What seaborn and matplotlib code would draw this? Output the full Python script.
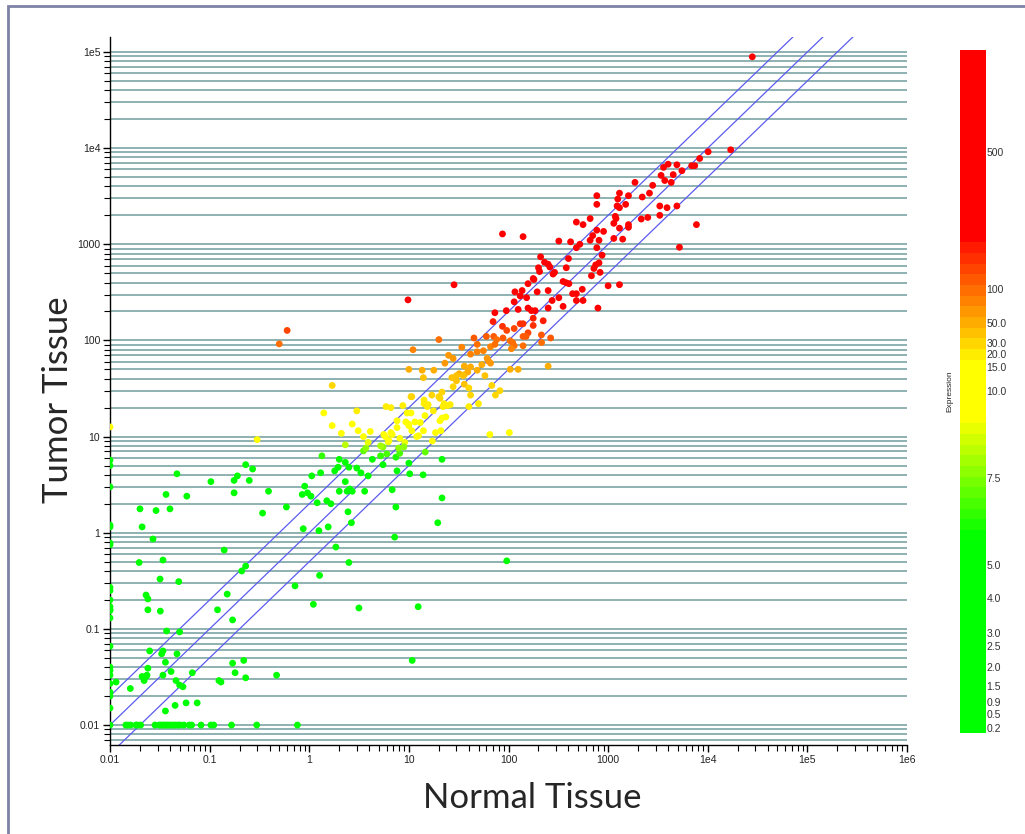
import numpy as np
import pandas as pd
import matplotlib
matplotlib.use("Agg")
import matplotlib.pyplot as plt
import seaborn as sns
from matplotlib.colors import LinearSegmentedColormap, FuncNorm
from matplotlib.ticker import FixedLocator, FixedFormatter, LogLocator, NullFormatter
from matplotlib.patches import Rectangle

# ---------------- data (normal tissue, tumor tissue) ----------------
normal_col = [0.01] * 24 + [0.0115]
tumor_col = [12.6, 5.7, 5.0, 3.0, 1.2, 1.15, 0.78, 0.75, 0.27, 0.25, 0.2, 0.17, 0.16, 0.155,
             0.13, 0.066, 0.04, 0.037, 0.033, 0.027, 0.022, 0.02, 0.015, 0.01, 0.028]

normal_floor = [0.0144, 0.0151, 0.0161, 0.0182, 0.0188, 0.0203, 0.0283, 0.0312, 0.0325, 0.0343,
                0.0356, 0.0373, 0.039, 0.0412, 0.0436, 0.0457, 0.0485, 0.0505, 0.0552, 0.0625,
                0.066, 0.082, 0.103, 0.11, 0.166, 0.297, 0.76]
tumor_floor = [0.01] * len(normal_floor)

normal_low = [0.047, 0.0365, 0.059, 0.02, 0.029, 0.04, 0.021, 0.027, 0.0196, 0.034, 0.103, 0.176,
              0.19, 0.23, 0.27, 0.25, 0.176, 0.39, 0.34, 0.59, 0.14, 0.23, 0.0318, 0.049, 0.023,
              0.024, 0.024, 0.032, 0.037, 0.05, 0.025, 0.034, 0.033, 0.047, 0.036, 0.024, 0.021,
              0.023, 0.0235, 0.022, 0.034, 0.041, 0.046, 0.05, 0.054, 0.067, 0.016, 0.045, 0.036,
              0.058, 0.075, 0.12, 0.17, 0.15, 0.21, 0.17, 0.22, 0.18, 0.124, 0.13, 0.23, 0.47,
              0.72, 1.1, 1.27, 3.15, 12.4, 10.8, 96]
tumor_low = [4.1, 2.5, 2.4, 1.77, 1.7, 1.77, 1.15, 0.86, 0.49, 0.52, 3.4, 3.5, 3.9, 5.1, 4.6, 3.5,
             2.6, 2.7, 1.6, 1.85, 0.66, 0.45, 0.33, 0.31, 0.225, 0.205, 0.158, 0.153, 0.095, 0.093,
             0.059, 0.059, 0.055, 0.055, 0.045, 0.039, 0.032, 0.032, 0.033, 0.029, 0.033, 0.036,
             0.029, 0.026, 0.025, 0.035, 0.024, 0.016, 0.014, 0.017, 0.017, 0.158, 0.124, 0.23,
             0.4, 0.044, 0.047, 0.035, 0.029, 0.028, 0.031, 0.033, 0.28, 0.18, 0.36, 0.165, 0.17,
             0.047, 0.51]

normal_mid = [0.3, 0.85, 0.9, 0.96, 1.04, 1.2, 1.06, 1.3, 1.34, 1.5, 1.65, 0.87, 1.25, 1.55, 1.85,
              2.5, 1.8, 1.95, 2.0, 2.3, 2.5, 3.0, 2.3, 2.0, 2.4, 2.7, 2.55, 2.45, 2.65, 3.3, 3.9,
              3.6, 4.3, 3.5, 3.7, 3.9, 2.3, 5.2, 5.5, 6.0, 5.5, 7.4, 8.1, 7.6, 10.2, 10, 6.8, 7.4,
              7.2, 13.9, 21.5, 14.6, 21.5, 19.5, 5.2, 6.2]
tumor_mid = [9.3, 2.5, 3.05, 2.6, 2.4, 2.05, 3.9, 4.2, 6.3, 2.15, 2.0, 1.1, 1.05, 1.15, 0.71, 0.49,
             4.4, 4.8, 5.8, 5.4, 4.8, 4.7, 3.4, 2.7, 2.7, 2.7, 2.85, 1.65, 1.27, 4.2, 3.9, 2.7, 5.8,
             7.1, 7.6, 8.7, 8.2, 6.3, 5.1, 6.6, 7.8, 6.1, 6.7, 4.4, 4.1, 5.3, 2.8, 1.85, 0.9, 4.0,
             5.8, 6.9, 2.3, 1.27, 8.0, 8.8]

normal_yellow = [1.7, 1.4, 1.7, 2.1, 2.7, 3.0, 3.1, 4.1, 3.5, 5.9, 6.6, 8.7, 10.7, 9.6, 10.5, 7.6,
                 9.3, 9.9, 11.5, 6.6, 6.8, 5.8, 6.3, 8.1, 9.1, 8.9, 7.9, 12, 10, 13, 20.5, 7.6,
                 10.7, 14, 18.5, 21, 12.5, 65, 102, 5.6, 17.2, 14.5, 17.6, 21.5, 23.5, 10.5, 14.2,
                 14.2, 15.6, 15.3, 22.6, 24.5, 22, 26, 40, 50, 27.8, 36, 40, 68, 82, 74, 41.6,
                 21.5, 17, 20, 20.5]
tumor_yellow = [34, 17.6, 13, 10.8, 13.5, 18.5, 11.5, 11.3, 10, 20.5, 20, 21, 26, 17.6, 17.6, 14.6,
                14.2, 13.5, 14.2, 11, 10.5, 10, 9.1, 9.6, 8.7, 7.8, 7.6, 10, 13, 14, 14.6, 12.4,
                11.5, 11.5, 11, 11.5, 10.2, 10.5, 11, 10.5, 9, 16.5, 18.5, 15.6, 16, 26, 24, 22,
                21.5, 20.5, 22, 21, 20.5, 21.5, 20.5, 22, 33, 35, 32, 34, 30, 27, 27, 29, 27, 26,
                25]

normal_orange = [0.6, 0.5, 10, 45, 60, 71, 76, 88, 104, 110, 114, 107, 140, 66, 73, 48.5, 34, 20,
                 11, 48.5, 56, 41.6, 25, 27.8, 61, 63, 66, 54, 48.5, 23, 36, 41.6, 32, 36, 39, 35,
                 27, 30, 13.6, 17.8, 14, 30, 58, 104, 125, 250]
tumor_orange = [127, 92, 50, 106, 110, 110, 102, 106, 99, 95, 88, 82, 88, 86, 91, 91, 85, 102, 80,
                76, 78, 72, 70, 65, 65, 61, 58, 56, 49, 58, 54, 53, 45, 44, 47, 43, 41, 38, 49, 49,
                41, 43, 43, 50, 50, 54]

normal_red = [28.4, 9.8, 157, 180, 353, 378, 404, 116, 137, 194, 152, 131, 114, 274, 320, 440, 480,
              353, 250, 157, 170, 185, 125, 95, 73, 70, 177, 223, 131, 140, 87, 96, 114, 177, 157,
              140, 150, 214, 265, 215,
              1.01e4, 8.3e3, 6.9e3, 7.4e3, 5.5e3, 4.9e3, 3.6e3, 4e3, 4.5e3, 3.4e3, 3.7e3, 4.3e3,
              2.8e3, 1.86e3, 2.6e3, 2.2e3, 1.3e3, 1.6e3, 1.25e3, 1.5e3, 1.23e3, 1.3e3, 3.3e3,
              3.9e3, 4.9e3, 770, 770, 2.15e3, 2.5e3, 3.3e3, 7.7e3, 1.18e3, 1.2e3, 1.14e3, 1.3e3,
              1.6e3, 1.6e3, 660, 560, 480, 770, 900, 700, 810, 660, 1.14e3, 1.4e3, 5.2e3, 87, 140,
              320, 420, 520, 480, 770, 870, 210, 230, 250, 260, 200, 400, 205, 280, 290, 380, 810,
              750, 720, 830, 680, 177, 1e3, 1.3e3, 550, 250, 480, 560, 790, 2.8e4, 1.7e4]
tumor_red = [379, 264, 389, 430, 410, 398, 389, 320, 330, 320, 278, 290, 252, 260, 278, 306, 306,
             226, 217, 217, 204, 204, 210, 204, 194, 157, 170, 160, 149, 149, 140, 127, 133, 143,
             120, 110, 110, 114, 106, 95,
             9160, 7800, 6560, 6560, 5820, 6700, 6300, 6800, 5300, 5200, 4600, 4400, 4100, 4400,
             3400, 3100, 3400, 3200, 2950, 2600, 2500, 2400, 2500, 2400, 2500, 3200, 2600, 1830,
             1900, 2000, 1600, 1950, 1850, 1650, 1470, 1600, 1500, 1850, 1600, 1700, 1400, 1360,
             1230, 1100, 1100, 1150, 1130, 930, 1280, 1200, 1080, 1060, 1000, 920, 920, 770, 740,
             650, 620, 580, 570, 710, 520, 490, 510, 570, 640, 610, 560, 510, 470, 440, 370, 380,
             340, 330, 260, 260, 217, 89000, 9600]

# axis ticks / labels
X_TICKS = [0.01, 0.1, 1, 10, 100, 1000, 1e4, 1e5, 1e6]
X_LABELS = ["0.01", "0.1", "1", "10", "100", "1000", "1e4", "1e5", "1e6"]
Y_TICKS = [0.01, 0.1, 1, 10, 100, 1000, 1e4, 1e5]
Y_LABELS = ["0.01", "0.1", "1", "10", "100", "1000", "1e4", "1e5"]
FOLD_LINES = [2, 1, 0.5]

# colour scale (Expression) labels and their positions along the bar
CB_VALUES = [0.1, 0.2, 0.5, 0.9, 1.5, 2.0, 2.5, 3.0, 4.0, 5.0, 7.5, 10.0, 15.0, 20.0, 30.0, 50.0,
             100, 500, 2000]
CB_LABELS = [None, "0.2", "0.5", "0.9", "1.5", "2.0", "2.5", "3.0", "4.0", "5.0", "7.5", "10.0",
             "15.0", "20.0", "30.0", "50.0", "100", "500", None]
CB_POS = [0.0, 0.007, 0.028, 0.045, 0.069, 0.097, 0.127, 0.146, 0.198, 0.246, 0.373, 0.501,
          0.536, 0.555, 0.571, 0.600, 0.650, 0.851, 1.0]

normal = normal_col + normal_floor + normal_low + normal_mid + normal_yellow + normal_orange + normal_red
tumor = tumor_col + tumor_floor + tumor_low + tumor_mid + tumor_yellow + tumor_orange + tumor_red
df = pd.DataFrame({"Normal": normal, "Tumor": tumor})

# ---------------- colours ----------------
_lv = np.log10(CB_VALUES)


def fwd(v):
    return np.interp(np.log10(np.asarray(v, dtype=float)), _lv, CB_POS)


def inv(f):
    return 10 ** np.interp(np.asarray(f, dtype=float), CB_POS, _lv)


norm = FuncNorm((fwd, inv), vmin=CB_VALUES[0], vmax=CB_VALUES[-1])
cmap = LinearSegmentedColormap.from_list(
    "expr",
    [(0.0, (0.0, 1.0, 0.0)), (0.283, (0.0, 1.0, 0.0)), (0.451, (0.95, 1.0, 0.0)),
     (0.46, (1.0, 1.0, 0.0)), (0.546, (1.0, 1.0, 0.0)), (0.56, (1.0, 0.9, 0.0)),
     (0.719, (1.0, 0.08, 0.0)), (0.725, (1.0, 0.0, 0.0)), (1.0, (1.0, 0.0, 0.0))],
    N=64)

# ---------------- figure ----------------
sns.set_style("ticks")
plt.rcParams["font.family"] = ["Liberation Sans", "DejaVu Sans"]

fig = plt.figure(figsize=(10.25, 8.34), dpi=100)
fig.patches.append(Rectangle((8 / 1025, -0.05), 1.1, (834 - 6) / 834 + 0.05,
                             transform=fig.transFigure, fill=False,
                             edgecolor="#7d83a6", lw=2))

ax = fig.add_axes([110 / 1025, 89 / 834, 797 / 1025, 708 / 834])
ax.set_xscale("log")
ax.set_yscale("log")
ax.set_xlim(0.01, 1e6)
ax.set_ylim(0.0062, 1.43e5)

# grid lines at every decade subdivision
ax.yaxis.set_major_locator(FixedLocator(Y_TICKS))
ax.yaxis.set_major_formatter(FixedFormatter(Y_LABELS))
ax.yaxis.set_minor_locator(LogLocator(base=10, subs=np.arange(2, 10), numticks=100))
ax.yaxis.set_minor_formatter(NullFormatter())
ax.xaxis.set_major_locator(FixedLocator(X_TICKS))
ax.xaxis.set_major_formatter(FixedFormatter(X_LABELS))
ax.xaxis.set_minor_locator(LogLocator(base=10, subs=np.arange(2, 10), numticks=100))
ax.xaxis.set_minor_formatter(NullFormatter())
ax.yaxis.grid(True, which="both", color="#86abab", lw=1.3, zorder=0)
ax.xaxis.grid(False, which="both")
ax.set_axisbelow(True)

# fold-change reference lines
line_x = np.array(X_TICKS)
for k in FOLD_LINES:
    ax.plot(line_x, k * line_x, color="#5b5bf0", lw=0.9, zorder=2)

sns.scatterplot(data=df, x="Normal", y="Tumor", hue="Tumor", palette=cmap, hue_norm=norm,
                s=24, linewidth=0, legend=False, ax=ax, zorder=3)

ax.set_xlabel("")
ax.set_ylabel("")
for side in ["top", "right"]:
    ax.spines[side].set_visible(False)
for side in ["left", "bottom"]:
    ax.spines[side].set_color("black")
    ax.spines[side].set_linewidth(1.0)
ax.tick_params(axis="both", which="major", length=5, width=1, color="black",
               labelsize=7.5, labelcolor="#222222", pad=2)
ax.tick_params(axis="both", which="minor", length=4, width=0.8, color="black")

fig.text(532 / 1025, (834 - 798) / 834, "Normal Tissue", ha="center", va="center",
         fontsize=25, family=["Lato", "DejaVu Sans"])
fig.text(58 / 1025, (834 - 400) / 834, "Tumor Tissue", ha="center", va="center",
         rotation=90, fontsize=25, family=["Lato", "DejaVu Sans"])

# colour bar
cax = fig.add_axes([960 / 1025, 101 / 834, 25 / 1025, 683 / 834])
cax.imshow(np.linspace(0, 1, 683)[:, None], aspect="auto", cmap=cmap, origin="lower",
           extent=[0, 1, 0, 1], interpolation="nearest")
tick_vals = [v for v, l in zip(CB_VALUES, CB_LABELS) if l is not None]
tick_labs = [l for l in CB_LABELS if l is not None]
cax.set_yticks(fwd(tick_vals))
cax.set_yticklabels(tick_labs)
cax.set_xticks([])
cax.yaxis.tick_right()
cax.tick_params(axis="y", length=0, labelsize=7.5, labelcolor="#333333", pad=1)
for s in cax.spines.values():
    s.set_visible(False)
cax.set_ylim(0, 1)
fig.text(953 / 1025, (834 - 391) / 834, "Expression", ha="right", va="center", rotation=90,
         fontsize=6, color="#222222")

fig.savefig("out.png", dpi=100)
